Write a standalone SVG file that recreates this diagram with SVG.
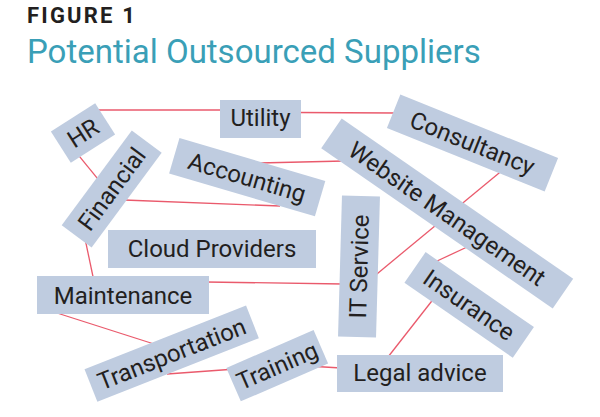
<svg xmlns="http://www.w3.org/2000/svg" width="600" height="417" viewBox="0 0 600 417">
<style>
.box{fill:#bfcce0}
.lbl{font-family:Roboto,"Liberation Sans",sans-serif;font-size:24px;fill:#231f20;text-anchor:middle}
.conn line{stroke:#ea5a6c;stroke-width:1.3;fill:none}
</style>
<rect width="600" height="417" fill="#ffffff"/>
<text x="27" y="22.7" font-family="Roboto,'Liberation Sans',sans-serif" font-weight="bold" font-size="22" letter-spacing="2.2" fill="#231f20">FIGURE 1</text>
<text x="27" y="63.3" font-family="Roboto,'Liberation Sans',sans-serif" font-size="33" fill="#3a9fb7">Potential Outsourced Suppliers</text>
<g id="connectors" class="conn">
<line x1="97" y1="110" x2="224" y2="110"/>
<line x1="297" y1="112.5" x2="396" y2="113"/>
<line x1="78" y1="154.7" x2="99" y2="180.3"/>
<line x1="124" y1="200" x2="280" y2="206"/>
<line x1="259" y1="163" x2="344" y2="161"/>
<line x1="85.5" y1="241" x2="93.5" y2="279"/>
<line x1="206" y1="282" x2="343" y2="284"/>
<line x1="57" y1="313" x2="154" y2="344"/>
<line x1="167" y1="374" x2="229" y2="369.5"/>
<line x1="316" y1="366.5" x2="341" y2="368"/>
<line x1="375.7" y1="274.9" x2="500.3" y2="172.1"/>
<line x1="466" y1="247.5" x2="436" y2="261.5"/>
<line x1="388" y1="357" x2="433" y2="299.5"/>
</g>
<g id="hr" transform="translate(83,133) rotate(-32.6)">
<rect class="box" x="-26.3" y="-18.5" width="52.6" height="37"/>
<text class="lbl" x="0" y="8.5">HR</text>
</g>
<g id="utility">
<rect class="box" x="220" y="100" width="81" height="38"/>
<text class="lbl" x="260.5" y="126">Utility</text>
</g>
<g id="financial" transform="translate(111.7,189) rotate(-53.5)">
<rect class="box" x="-58.9" y="-18.6" width="117.8" height="37.2"/>
<text class="lbl" x="0" y="8.5">Financial</text>
</g>
<g id="accounting" transform="translate(247.2,177.2) rotate(16.4)">
<rect class="box" x="-76" y="-18.4" width="152" height="36.8"/>
<text class="lbl" x="0" y="8.5">Accounting</text>
</g>
<g id="consultancy" transform="translate(472.5,143) rotate(21.9)">
<rect class="box" x="-85" y="-18" width="170" height="36"/>
<text class="lbl" x="0" y="8.5">Consultancy</text>
</g>
<g id="website-management" transform="translate(447.2,213.5) rotate(34.7)">
<rect class="box" x="-140.8" y="-18" width="281.6" height="36"/>
<text class="lbl" x="0" y="8.5">Website Management</text>
</g>
<g id="cloud-providers">
<rect class="box" x="108" y="230" width="208" height="38"/>
<text class="lbl" x="212" y="257">Cloud Providers</text>
</g>
<g id="it-service" transform="translate(359,266.5) rotate(-88.4)">
<rect class="box" x="-70.5" y="-19" width="141" height="38"/>
<text class="lbl" x="0" y="8.5">IT Service</text>
</g>
<g id="maintenance">
<rect class="box" x="37" y="276" width="172" height="38"/>
<text class="lbl" x="123" y="303.5">Maintenance</text>
</g>
<g id="insurance" transform="translate(469.2,304.9) rotate(34.7)">
<rect class="box" x="-65.9" y="-18.6" width="131.8" height="37.2"/>
<text class="lbl" x="0" y="8.5">Insurance</text>
</g>
<g id="transportation" transform="translate(171.7,353.7) rotate(-21.5)">
<rect class="box" x="-86.8" y="-17.5" width="173.6" height="35"/>
<text class="lbl" x="0" y="8.5">Transportation</text>
</g>
<g id="training" transform="translate(277.2,365.7) rotate(-23.5)">
<rect class="box" x="-47.6" y="-18.2" width="95.2" height="36.4"/>
<text class="lbl" x="0" y="8.5">Training</text>
</g>
<g id="legal-advice">
<rect class="box" x="337" y="355" width="166" height="37"/>
<text class="lbl" x="420" y="381">Legal advice</text>
</g>
</svg>
